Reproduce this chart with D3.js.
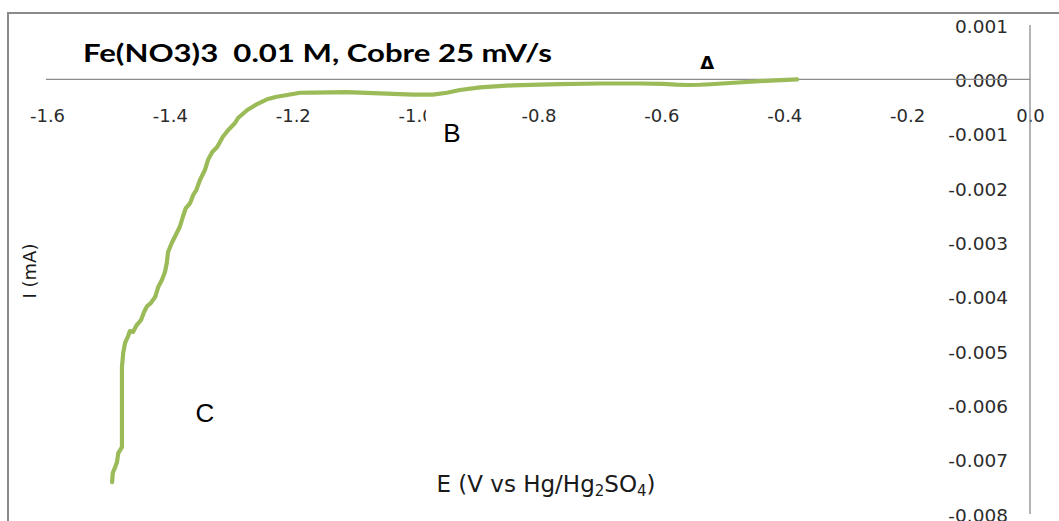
<!DOCTYPE html>
<html>
<head>
<meta charset="utf-8">
<script src="https://cdn.jsdelivr.net/npm/d3@7"></script>
<style>
html,body{margin:0;padding:0;background:#fff;}
svg{display:block;}
</style>
</head>
<body>
<svg id="chart" width="1059" height="521"></svg>
<script>
// ---- data ----
const potential = [
 -0.379,-0.423,-0.488,-0.520,-0.537,-0.558,-0.576,-0.597,-0.635,-0.700,-0.765,-0.798,-0.842,-0.895,-0.928,-0.949,-0.972,
 -1.004,-1.058,-1.112,-1.167,-1.188,-1.209,-1.226,-1.242,-1.258,-1.274,-1.289,-1.294,-1.305,-1.314,-1.323,
 -1.331,-1.338,-1.343,-1.351,-1.357,-1.362,-1.367,-1.374,-1.379,-1.384,-1.388,-1.392,-1.397,-1.403,-1.405,
 -1.408,-1.413,-1.419,-1.424,-1.431,-1.437,-1.442,-1.447,-1.454,-1.460,-1.465,-1.468,-1.473,-1.476,-1.478,
 -1.478,-1.478,-1.484,-1.486,-1.489,-1.493,-1.494
];
const current = [
 0.000000,-0.000022,-0.000068,-0.000090,-0.000100,-0.000104,-0.000098,-0.000085,-0.000077,-0.000077,-0.000087,-0.000096,-0.000110,-0.000147,-0.000197,-0.000247,-0.000280,
 -0.000283,-0.000258,-0.000234,-0.000243,-0.000247,-0.000289,-0.000320,-0.000368,-0.000455,-0.000565,-0.000712,-0.000804,-0.000933,-0.001062,-0.001246,
 -0.001338,-0.001485,-0.001669,-0.001853,-0.002037,-0.002127,-0.002277,-0.002369,-0.002534,-0.002718,-0.002810,-0.002902,-0.003013,-0.003178,-0.003381,
 -0.003547,-0.003694,-0.003823,-0.004007,-0.004117,-0.004172,-0.004283,-0.004430,-0.004522,-0.004651,-0.004633,-0.004725,-0.004854,-0.005038,-0.005295,
 -0.005903,-0.006768,-0.006878,-0.007044,-0.007136,-0.007247,-0.007412
];
const xTicks = [-1.6,-1.4,-1.2,-1.0,-0.8,-0.6,-0.4,-0.2,0.0];
const xTickLabels = ["-1.6","-1.4","-1.2","-1.0","-0.8","-0.6","-0.4","-0.2","0.0"];
const yTicks = [0.001,0.000,-0.001,-0.002,-0.003,-0.004,-0.005,-0.006,-0.007,-0.008];
const yTickLabels = ["0.001","0.000","-0.001","-0.002","-0.003","-0.004","-0.005","-0.006","-0.007","-0.008"];
const titleText = "Fe(NO3)3  0.01 M, Cobre 25 mV/s";
const peakLabels = [
  {text:"Δ", E:-0.5255, I:0.000318, bold:true},
  {text:"B", E:-0.941, I:-0.00098, bold:false},
  {text:"C", E:-1.343, I:-0.00614, bold:false}
];

// ---- drawing ----
const svg = d3.select("#chart");
const x = d3.scaleLinear().domain([-1.6, 0]).range([47, 1030]);
const y = d3.scaleLinear().domain([-0.008, 0.001]).range([514, 25]);

// frame (chart area border, cropped on right and bottom)
svg.append("path")
  .attr("d", "M8,521 L8,13 L1059,13")
  .attr("fill","none").attr("stroke","#8a8a8a").attr("stroke-width",2);

// x tick labels
const xAxis = d3.axisBottom(x).tickValues(xTicks)
  .tickFormat((d,i)=>xTickLabels[i]).tickSize(0).tickPadding(0);
const gx = svg.append("g").attr("transform", `translate(0,${y(0)})`).call(xAxis);
gx.select(".domain").remove();
gx.selectAll("text").attr("dy", null).attr("y", 43)
  .style("font-family","'DejaVu Sans'").style("font-size","18px").attr("fill","#2b2b2b");

// y tick labels
const yAxis = d3.axisLeft(y).tickValues(yTicks)
  .tickFormat((d,i)=>yTickLabels[i]).tickSize(0).tickPadding(0);
const gy = svg.append("g").attr("transform", `translate(${x(0)},0)`).call(yAxis);
gy.select(".domain").remove();
gy.selectAll("text").attr("x", -22).attr("dy","0.38em")
  .style("font-family","'DejaVu Sans'").style("font-size","18.5px").attr("fill","#2b2b2b");

// axis lines
svg.append("line").attr("x1", x(-1.6)-1).attr("x2", x(0)).attr("y1", y(0)).attr("y2", y(0))
  .attr("stroke","#8c8c8c").attr("stroke-width",1.3);
svg.append("line").attr("x1", x(0)).attr("x2", x(0)).attr("y1", y(0.001)).attr("y2", y(-0.008))
  .attr("stroke","#8c8c8c").attr("stroke-width",1.3);

// data line
const pts = potential.map((e,i)=>[e, current[i]]);
const line = d3.line().x(d=>x(d[0])).y(d=>y(d[1])).curve(d3.curveLinear);
svg.append("path").datum(pts).attr("d", line)
  .attr("fill","none").attr("stroke","#9BBB59").attr("stroke-width",4.2)
  .attr("stroke-linejoin","round").attr("stroke-linecap","round");

// title
svg.append("text").attr("x", 83).attr("y", 62)
  .attr("textLength", 469).attr("lengthAdjust","spacingAndGlyphs")
  .style("white-space","pre").attr("xml:space","preserve")
  .style("font-family","Lato").style("font-weight","700").style("font-size","24px")
  .attr("fill","#000").text(titleText);

// peak labels with white boxes
const boxSize = {"Δ":[34,30], "B":[52,50], "C":[52,44]};
peakLabels.forEach(p=>{
  const cx = x(p.E), cy = y(p.I);
  const [bw,bh] = boxSize[p.text];
  svg.append("rect").attr("x", cx-bw/2).attr("y", cy-bh/2).attr("width", bw).attr("height", bh)
    .attr("fill","#fff");
  svg.append("text").attr("x", cx).attr("y", cy)
    .attr("text-anchor","middle").attr("dy", "0.36em")
    .style("font-family", p.bold ? "'DejaVu Sans'" : "'Liberation Sans'")
    .style("font-weight", p.bold ? "700" : "400")
    .style("font-size", p.bold ? "18px" : "26px")
    .attr("fill","#000").text(p.text);
});

// axis titles
const xt = svg.append("text").attr("x", 546).attr("y", 492).attr("text-anchor","middle")
  .style("font-family","'DejaVu Sans'").style("font-size","23px").attr("fill","#1a1a1a");
xt.append("tspan").text("E (V vs Hg/Hg");
xt.append("tspan").attr("dy", 4).style("font-size","15px").text("2");
xt.append("tspan").attr("dy", -4).text("SO");
xt.append("tspan").attr("dy", 4).style("font-size","15px").text("4");
xt.append("tspan").attr("dy", -4).text(")");

svg.append("text").attr("transform","translate(36,271) rotate(-90)")
  .attr("text-anchor","middle")
  .style("font-family","'DejaVu Sans'").style("font-size","18px").attr("fill","#1a1a1a")
  .text("I (mA)");
</script>
</body>
</html>
